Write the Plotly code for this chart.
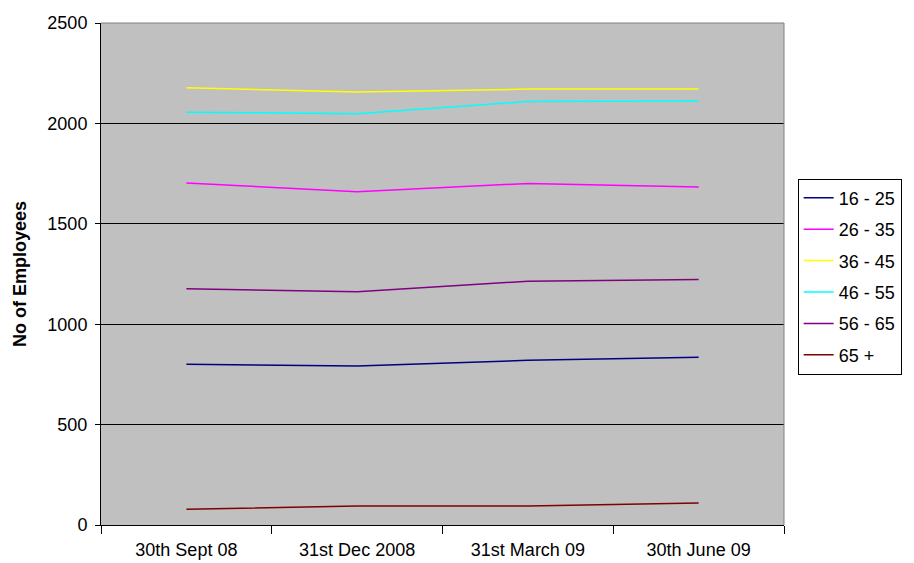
import plotly.graph_objects as go

# Quarter-end headcount by age band
quarters = ["30th Sept 08", "31st Dec 2008", "31st March 09", "30th June 09"]

age_16_25 = [800, 792, 820, 835]
age_26_35 = [1703, 1660, 1701, 1683]
age_36_45 = [2177, 2156, 2171, 2171]
age_46_55 = [2056, 2048, 2109, 2111]
age_56_65 = [1176, 1161, 1214, 1222]
age_65_plus = [78, 95, 95, 110]

series = [
    ("16 - 25", age_16_25, "#000080"),
    ("26 - 35", age_26_35, "#FF00FF"),
    ("36 - 45", age_36_45, "#FFFF00"),
    ("46 - 55", age_46_55, "#00FFFF"),
    ("56 - 65", age_56_65, "#800080"),
    ("65 +", age_65_plus, "#800000"),
]

fig = go.Figure()
for i, (name, vals, color) in enumerate(series):
    fig.add_trace(go.Scatter(
        x=quarters, y=vals, name=name, mode="lines",
        line=dict(color=color, width=1.5),
        legendgroup=f"g{i}",
    ))

font = "Arial, Liberation Sans, sans-serif"

fig.update_layout(
    width=914, height=563,
    margin=dict(l=101, r=128, t=23, b=38),
    paper_bgcolor="white",
    plot_bgcolor="#C0C0C0",
    font=dict(family=font, size=18, color="black"),
    showlegend=True,
    legend=dict(
        x=1.02, xanchor="left", y=0.69, yanchor="top",
        bgcolor="white", bordercolor="black", borderwidth=1,
        font=dict(family=font, size=18, color="black"),
        tracegroupgap=5,
    ),
)

fig.update_xaxes(
    type="category",
    range=[-0.5, 3.5],
    tickson="boundaries",
    ticks="outside", ticklen=8, tickcolor="black", tickwidth=1,
    showline=True, linecolor="black", linewidth=1,
    showgrid=False, zeroline=False,
    mirror=False,
    automargin=False,
    tickfont=dict(family=font, size=18),
    ticklabelstandoff=8,
)

fig.update_yaxes(
    range=[0, 2500], dtick=500,
    ticks="outside", ticklen=5, tickcolor="black", tickwidth=1,
    showline=True, linecolor="black", linewidth=1,
    showgrid=True, gridcolor="black", gridwidth=1,
    zeroline=False,
    automargin=False,
    tickfont=dict(family=font, size=18),
    ticklabelstandoff=4,
    title=dict(text="<b>No of Employees</b>", font=dict(family=font, size=18), standoff=16),
)

# Grey frame on the top and right of the plotting area
fig.add_shape(type="line", xref="paper", yref="paper", x0=0, x1=1, y0=1, y1=1,
              line=dict(color="#808080", width=1))
fig.add_shape(type="line", xref="paper", yref="paper", x0=1, x1=1, y0=0, y1=1,
              line=dict(color="#808080", width=1))

fig.write_html("out.html")
